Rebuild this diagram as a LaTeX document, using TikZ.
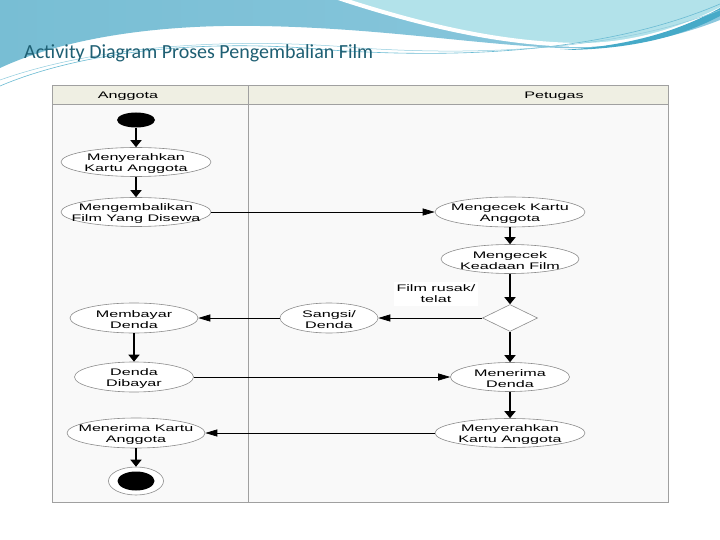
\documentclass[tikz,border=0pt]{standalone}
\usepackage{fontspec}
\setmainfont{Liberation Sans}
\newfontfamily\diagfont[FakeStretch=1.7]{Liberation Sans}
\newfontfamily\titlefont{Carlito}
\usetikzlibrary{shapes.geometric,arrows.meta}
\definecolor{bluemid}{RGB}{120,190,212}
\definecolor{bluemid2}{RGB}{140,200,222}
\definecolor{bluelight}{RGB}{178,226,234}
\definecolor{bluedark}{RGB}{70,170,200}
\definecolor{titlecol}{RGB}{30,95,115}
\definecolor{framecol}{RGB}{160,160,160}
\definecolor{headfill}{RGB}{239,239,227}
\definecolor{lanefill}{RGB}{249,249,249}
\tikzset{
  dtext/.style={font=\diagfont\fontsize{9.5}{11}\selectfont, align=center, inner sep=0pt},
  act/.style n args={3}{ellipse, draw=black!45, fill=white, line width=0.6pt, inner sep=0pt,
    minimum width=#1, minimum height=#2,
    label={[dtext, yshift=-1.5pt]center:#3}},
  vflow/.style={line width=1.6pt, -{Triangle[width=11pt,length=7pt]}},
  hflow/.style={line width=0.7pt, -{Triangle[width=7pt,length=12pt]}},
  lanehead/.style={font=\diagfont\fontsize{9.5}{11}\selectfont, inner sep=0pt}
}
\begin{document}
\begin{tikzpicture}[x=1pt,y=-1pt]
\useasboundingbox (0,0) rectangle (720,540);
\fill[white] (0,0) rectangle (720,540);
% slide background waves
\shade[left color=bluemid, right color=bluemid2]
  (0,0) -- (720,0) -- (720,20) .. controls (670,40) and (610,50) .. (560,48)
  .. controls (470,44) and (380,28) .. (260,26)
  .. controls (150,24) and (60,40) .. (0,68) -- cycle;
\fill[bluelight, draw=white, line width=4pt]
  (335,-3) .. controls (420,25) and (500,44) .. (580,45)
  .. controls (640,45) and (690,25) .. (723,8) -- (723,-3) -- cycle;
\fill[bluedark] (560,50) .. controls (640,46) and (690,25) .. (720,8)
  -- (720,16) .. controls (690,32) and (640,50) .. (560,50) -- cycle;
\draw[bluedark!80, line width=0.6pt] (0,86) .. controls (80,52) and (200,38) .. (330,50)
  .. controls (450,58) and (600,55) .. (720,4);
\draw[bluedark!60, line width=0.5pt] (0,80) .. controls (90,48) and (220,36) .. (360,48)
  .. controls (480,56) and (620,50) .. (720,10);
\node[anchor=base west, font=\titlefont\fontsize{20}{22}\selectfont, text=titlecol, inner sep=0pt]
  (title) at (24,59) {Activity Diagram Proses Pengembalian Film};
% swimlane frame
\fill[lanefill] (52,86) rectangle (668,502);
\fill[headfill] (52,86) rectangle (668,105);
\draw[framecol, line width=1pt] (52,86) rectangle (668,502);
\draw[framecol, line width=1pt] (52,105) -- (668,105);
\draw[framecol, line width=1pt] (248,86) -- (248,502);
\node[lanehead] (h1) at (128,96) {Anggota};
\node[lanehead] (h2) at (554,96) {Petugas};
% nodes
\node[ellipse, fill=black, inner sep=0pt, minimum width=38pt, minimum height=15pt] (start) at (136,120) {};
\node[act={150pt}{29pt}{Menyerahkan\\Kartu Anggota}] (a1) at (136,162) {};
\node[act={150pt}{29pt}{Mengembalikan\\Film Yang Disewa}] (a2) at (136,212) {};
\node[act={150pt}{30pt}{Mengecek Kartu\\Anggota}] (p1) at (510,212) {};
\node[act={138pt}{29pt}{Mengecek\\Keadaan Film}] (p2) at (510,259) {};
\node[diamond, draw=black!45, fill=white, line width=0.6pt, inner sep=0pt,
  minimum width=55pt, minimum height=27pt] (dec) at (510,318) {};
\node[dtext, fill=white, inner sep=3pt] (lbl) at (436,294) {Film rusak/\\telat};
\node[act={98pt}{30pt}{Sangsi/\\Denda}] (p3) at (329,318) {};
\node[act={128pt}{30pt}{Membayar\\Denda}] (a3) at (134,318) {};
\node[act={119pt}{30pt}{Denda\\Dibayar}] (a4) at (134,377) {};
\node[act={119pt}{29pt}{Menerima\\Denda}] (p4) at (510,377) {};
\node[act={150pt}{29pt}{Menyerahkan\\Kartu Anggota}] (p5) at (510,433) {};
\node[act={138pt}{30pt}{Menerima Kartu\\Anggota}] (a5) at (136,433) {};
\node[ellipse, draw=black!45, fill=white, line width=0.6pt, inner sep=0pt,
  minimum width=55pt, minimum height=28pt] (end) at (136,481) {};
\node[ellipse, fill=black, inner sep=0pt, minimum width=37pt, minimum height=19pt] (endin) at (136,481) {};
% connectors
\draw[vflow] (start) -- (a1);
\draw[vflow] (a1) -- (a2);
\draw[hflow] (a2) -- (p1);
\draw[vflow] (p1) -- (p2);
\draw[vflow] (p2) -- (dec);
\draw[hflow] (dec) -- (p3);
\draw[hflow] (p3) -- (a3);
\draw[vflow] (a3) -- (a4);
\draw[hflow] (a4) -- (p4);
\draw[vflow] (dec) -- (p4);
\draw[vflow] (p4) -- (p5);
\draw[hflow] (p5) -- (a5);
\draw[vflow] (a5) -- (end);
\end{tikzpicture}
\end{document}
